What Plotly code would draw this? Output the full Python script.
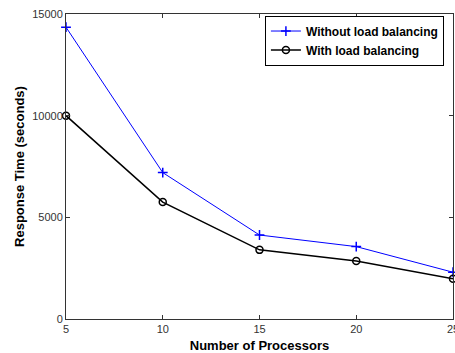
import plotly.graph_objects as go

processors = [5, 10, 15, 20, 25]
without_lb = [14350, 7200, 4130, 3560, 2300]
with_lb = [10000, 5750, 3400, 2850, 1980]
x_ticks = [5, 10, 15, 20, 25]
y_ticks = [0, 5000, 10000, 15000]

fig = go.Figure()
fig.add_trace(go.Scatter(
    x=processors, y=without_lb, mode="lines+markers",
    name="Without load balancing",
    line=dict(color="#0000ff", width=1),
    marker=dict(symbol="cross-thin", size=7, line=dict(color="#0000ff", width=1.5)),
    cliponaxis=False,
))
fig.add_trace(go.Scatter(
    x=processors, y=with_lb, mode="lines+markers",
    name="With load balancing",
    line=dict(color="#000000", width=1.5),
    marker=dict(symbol="circle-open", size=7, color="#000000", line=dict(width=1.5)),
    cliponaxis=False,
))

axis_common = dict(
    showgrid=False, zeroline=False, showline=True, linecolor="#333333", linewidth=1,
    mirror="ticks", ticks="inside", ticklen=4, tickcolor="#333333", automargin=False,
    tickfont=dict(family="Liberation Sans, Arial", size=11, color="#333333"),
)
fig.update_xaxes(
    range=[5, 25], tickvals=x_ticks, ticktext=[str(v) for v in x_ticks],
    title=dict(text="<b>Number of Processors</b>", font=dict(family="Liberation Sans, Arial", size=13, color="#000"), standoff=6),
    **axis_common,
)
fig.update_yaxes(
    range=[0, 15000], tickvals=y_ticks, ticktext=[str(v) for v in y_ticks],
    title=dict(text="<b>Response Time (seconds)</b>", font=dict(family="Liberation Sans, Arial", size=13, color="#000"), standoff=4),
    **axis_common,
)
fig.update_layout(
    width=463, height=353,
    margin=dict(l=66, r=10, t=14, b=34),
    paper_bgcolor="white", plot_bgcolor="white",
    showlegend=True,
    legend=dict(
        x=0.514, y=0.995, xanchor="left", yanchor="top",
        bordercolor="#000", borderwidth=1, bgcolor="white",
        font=dict(family="Liberation Sans, Arial", size=12, color="#000", weight="bold"),
        tracegroupgap=0, itemwidth=30,
    ),
)
fig.write_html(
    "out.html",
    config={"displayModeBar": False},
    post_script="document.body.style.margin='0';document.body.style.overflow='hidden';",
)
